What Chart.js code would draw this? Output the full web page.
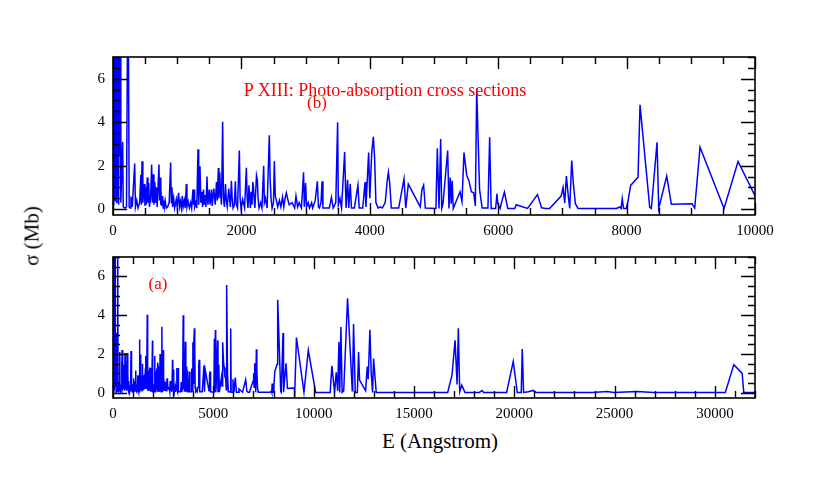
<!DOCTYPE html>
<html>
<head>
<meta charset="utf-8">
<script src="https://cdn.jsdelivr.net/npm/chart.js@4/dist/chart.umd.min.js"></script>
<style>
  body { margin: 0; background: #fff; }
  #wrap { position: relative; width: 830px; height: 485px; overflow: hidden; font-family: "Liberation Serif", serif; }
  canvas { position: absolute; left: 0; }
  .lbl { position: absolute; white-space: nowrap; transform: translate(-50%, -50%); line-height: 1; }
  .red { color: #ff0000; font-size: 18px; }
</style>
</head>
<body>
<div id="wrap">
  <canvas id="panelB" width="830" height="240" style="top:0"></canvas>
  <canvas id="panelA" width="830" height="180" style="top:240px"></canvas>
  <div class="lbl red" id="title" style="left:385px; top:90px">P XIII: Photo-absorption cross sections</div>
  <div class="lbl red" id="tagB" style="left:317px; top:102px; font-size:17px">(b)</div>
  <div class="lbl red" id="tagA" style="left:158px; top:283px; font-size:17px">(a)</div>
  <div class="lbl" id="ylab" style="left:32px; top:236px; font-size:21px; transform: translate(-50%, -50%) rotate(-90deg)">σ (Mb)</div>
  <div class="lbl" id="xlab" style="left:440px; top:441px; font-size:21px">E (Angstrom)</div>
</div>
<script>
// Data: photon wavelength (Angstrom) and cross section (Mb)
var energy = [
  2, 8, 15, 22, 30, 38, 46, 55, 62, 72,
  80, 88, 96, 105, 112, 122, 150, 160, 185, 210,
  228, 240, 252, 265, 280, 300, 338, 350, 370, 390,
  415, 434, 442, 452, 465, 488, 498, 510, 520, 534,
  545, 556, 568, 585, 602, 612, 628, 638, 652, 662,
  675, 688, 716, 725, 735, 742, 747, 757, 772, 782,
  791, 800, 812, 830, 850, 875, 898, 908, 918, 928,
  945, 960, 986, 1000, 1022, 1035, 1050, 1065, 1080, 1092,
  1110, 1125, 1142, 1152, 1170, 1190, 1210, 1225, 1245, 1255,
  1262, 1272, 1290, 1305, 1324, 1335, 1355, 1368, 1385, 1395,
  1410, 1420, 1435, 1448, 1464, 1478, 1500, 1512, 1535, 1545,
  1570, 1592, 1612, 1625, 1641, 1650, 1662, 1675, 1690, 1708,
  1720, 1735, 1752, 1765, 1780, 1803, 1815, 1828, 1844, 1856,
  1870, 1890, 1906, 1918, 1940, 1968, 1980, 1995, 2020, 2035,
  2050, 2077, 2090, 2102, 2118, 2130, 2140, 2152, 2165, 2178,
  2188, 2198, 2210, 2235, 2248, 2260, 2275, 2300, 2320, 2347,
  2358, 2375, 2400, 2435, 2448, 2462, 2478, 2500, 2513, 2528,
  2545, 2565, 2593, 2615, 2640, 2660, 2680, 2700, 2718, 2745,
  2790, 2830, 2850, 2875, 2900, 2935, 2968, 2980, 3000, 3015,
  3040, 3060, 3094, 3110, 3150, 3183, 3200, 3215, 3240, 3256,
  3270, 3320, 3370, 3402, 3430, 3470, 3499, 3510, 3535, 3560,
  3608, 3630, 3654, 3672, 3695, 3715, 3760, 3815, 3835, 3890,
  3926, 3940, 3982, 4000, 4030, 4055, 4075, 4095, 4130, 4165,
  4195, 4240, 4273, 4290, 4310, 4335, 4450, 4533, 4560, 4600,
  4786, 4812, 4838, 4865, 5030, 5052, 5078, 5104, 5120, 5140,
  5213, 5233, 5252, 5268, 5283, 5300, 5405, 5436, 5467, 5510,
  5545, 5582, 5618, 5644, 5665, 5710, 5750, 5840, 5867, 5890,
  5960, 5981, 5995, 6030, 6060, 6097, 6150, 6258, 6280, 6457,
  6612, 6675, 6740, 6800, 6980, 7010, 7036, 7062, 7088, 7114,
  7145, 7170, 7202, 7244, 7540, 7840, 7897, 7915, 7932, 7953,
  7995, 8021, 8063, 8178, 8209, 8360, 8386, 8474, 8500, 8625,
  8697, 9019, 9061, 9144, 9518, 9736, 10100, 10825, 10910, 11045,
  11128, 11200, 11262, 11300, 11360, 11420, 11500, 11692, 11925, 11950,
  11990, 12075, 12180, 12241, 12290, 12590, 12673, 12720, 12805, 12870,
  12938, 12988, 13120, 16682, 16900, 17050, 17150, 17214, 17280, 17380,
  17545, 18260, 18400, 18475, 19620, 19950, 20150, 20350, 20400, 20465,
  20700, 20945, 21090, 23880, 24625, 24960, 26120, 26950, 30520, 30945,
  31360, 31440, 32000
];

var sigma = [
  7.5, 0.2, 9, 0.4, 8.5, 1.0, 9, 0.3, 8, 0.6,
  9.5, 0.2, 8, 2.5, 7.8, 0.3, 3.1, 0.1, 0.05, 0.1,
  9, 8, 0.1, 0.05, 0.58, 0.1, 2.1, 0.1, 0.4, 0.05,
  0.3, 1.58, 0.2, 2.2, 0.3, 1.15, 0.15, 1.0, 0.2, 1.45,
  0.3, 1.2, 0.1, 0.5, 2.05, 0.3, 1.6, 0.2, 1.25, 0.3,
  1.0, 0.1, 2.05, 0.4, 1.45, 0.2, 1.0, 0.15, 0.6, 0.05,
  0.4, 0.1, 0.4, 0.05, 0.1, 0.3, 2.15, 0.3, 1.0, 0.1,
  0.5, 0.05, 0.45, 0.1, 0.75, 0.1, 0.35, 0.05, 0.6, 0.1,
  0.4, 0.05, 1.15, 0.1, 0.35, 0.05, 0.3, 0.05, 0.9, 0.2,
  0.9, 0.1, 0.3, 0.05, 2.75, 0.2, 1.97, 0.3, 0.8, 0.1,
  0.9, 0.2, 0.65, 0.1, 1.5, 0.2, 0.9, 0.2, 0.9, 0.15,
  0.95, 0.2, 1.25, 0.4, 1.89, 0.5, 1.7, 0.75, 0.2, 4.02,
  0.6, 0.1, 1.15, 0.4, 0.1, 0.95, 0.5, 0.1, 1.3, 0.5,
  0.05, 0.2, 1.28, 0.25, 0.05, 2.7, 0.5, 0.05, 0.45, 0.25,
  0.05, 1.9, 0.5, 0.05, 1.1, 0.5, 0.05, 0.8, 0.2, 1.25,
  1.0, 0.5, 0.05, 1.55, 1.35, 0.5, 0.05, 0.3, 0.05, 2.0,
  0.3, 0.5, 0.05, 3.4, 1.35, 0.5, 0.05, 0.3, 2.2, 0.6,
  0.4, 0.1, 0.4, 0.1, 0.55, 0.1, 0.5, 0.75, 0.5, 0.2,
  0.3, 0.05, 0.6, 0.1, 0.3, 0.05, 1.7, 0.1, 1.2, 0.1,
  0.3, 0.05, 0.3, 0.05, 0.4, 1.28, 0.1, 0.05, 0.3, 1.28,
  0.05, 0.05, 0.05, 0.55, 0.05, 0.3, 4.0, 0.2, 0.5, 0.05,
  2.63, 0.05, 1.35, 0.05, 1.15, 0.05, 0.05, 1.1, 0.05, 0.05,
  1.25, 0.1, 2.6, 0.5, 2.6, 3.33, 2.35, 0.3, 0.05, 0.1,
  0.05, 0.3, 1.35, 1.7, 1.2, 0.05, 0.05, 1.4, 0.05, 1.15,
  0.1, 0.9, 1.1, 0.05, 0.03, 2.8, 0.03, 3.23, 0.03, 0.25,
  2.7, 0.03, 1.45, 0.25, 1.3, 0.03, 0.8, 0.35, 2.6, 1.55,
  1.3, 0.8, 0.75, 0.15, 5.55, 0.9, 0.05, 0.05, 3.31, 0.03,
  0.03, 0.7, 0.25, 0.03, 0.4, 0.78, 0.03, 0.03, 0.2, 0.03,
  0.67, 0.06, 0.03, 0.03, 0.6, 1.0, 0.28, 1.52, 0.7, 0.03,
  2.24, 1.2, 0.25, 0.03, 0.03, 0.03, 0.1, 0.03, 0.48, 0.03,
  0.03, 0.35, 1.09, 1.47, 4.8, 0.08, 0.03, 3.08, 0.03, 1.52,
  0.22, 0.25, 0.05, 2.85, 0.03, 2.19, 0.02, 0.02, 1.39, 0.02,
  1.05, 0.1, 2.62, 0.02, 3.39, 0.02, 0.1, 4.87, 0.1, 1.0,
  3.54, 0.02, 0.02, 2.1, 0.65, 0.1, 1.35, 0.7, 3.25, 1.05,
  0.02, 1.77, 0.02, 0.02, 0.92, 2.7, 0.43, 3.33, 0.05, 0.39,
  0.02, 0.02, 0.12, 0.02, 0.02, 1.62, 0.02, 0.02, 2.25, 0.02,
  0.05, 0.12, 0.02, 0.02, 0.06, 0.02, 0.06, 0.02, 0.02, 1.45,
  1.0, 0.02, 0.02
];

// tick labels
var yTicks = [0, 2, 4, 6];
var xTicksB = [0, 2000, 4000, 6000, 8000, 10000];
var xTicksA = [0, 5000, 10000, 15000, 20000, 25000, 30000];

var points = energy.map(function(e, i) { return {x: e, y: sigma[i]}; });

// frame box with inward ticks on all four sides
var frameTicks = {
  id: 'frameTicks',
  afterDatasetsDraw: function(chart, args, opts) {
    var ctx = chart.ctx, a = chart.chartArea, x = chart.scales.x, y = chart.scales.y;
    var v, p, len;
    ctx.save();
    ctx.strokeStyle = '#000';
    ctx.lineWidth = 1.4;
    ctx.beginPath();
    for (v = 0; v <= x.max + 1e-6; v += opts.xMinor) {
      p = Math.round(x.getPixelForValue(v)) + 0.5;
      len = (v % opts.xMajor === 0) ? 12 : 7;
      ctx.moveTo(p, a.bottom); ctx.lineTo(p, a.bottom - len);
      ctx.moveTo(p, a.top); ctx.lineTo(p, a.top + len);
    }
    for (v = 0; v <= y.max + 1e-6; v += 0.5) {
      p = Math.round(y.getPixelForValue(v)) + 0.5;
      len = (Math.abs(v / 2 - Math.round(v / 2)) < 1e-6) ? 14 : 7;
      ctx.moveTo(a.left, p); ctx.lineTo(a.left + len, p);
      ctx.moveTo(a.right, p); ctx.lineTo(a.right - len, p);
    }
    ctx.stroke();
    ctx.lineWidth = 1.6;
    ctx.strokeRect(a.left, a.top, a.right - a.left, a.bottom - a.top);
    ctx.restore();
  }
};

var tickFont = {family: 'Liberation Serif', size: 15};
var plainLabel = function(v) { return String(v); };

function makePanel(id, xMax, xTicks, xMinor, xMajor, padTop, xAxisH) {
  return new Chart(document.getElementById(id), {
    type: 'line',
    data: {
      datasets: [{
        data: points,
        borderColor: '#0000ff',
        borderWidth: 1.5,
        pointRadius: 0,
        tension: 0,
        fill: false
      }]
    },
    options: {
      responsive: false,
      animation: false,
      layout: {padding: {left: 0, right: 75, top: padTop, bottom: 0}},
      plugins: {
        legend: {display: false},
        tooltip: {enabled: false},
        frameTicks: {xMinor: xMinor, xMajor: xMajor}
      },
      scales: {
        x: {
          type: 'linear',
          min: 0,
          max: xMax,
          grid: {display: false, drawTicks: false},
          border: {display: false},
          ticks: {font: tickFont, color: '#000', padding: 7, maxRotation: 0, callback: plainLabel},
          afterBuildTicks: function(s) { s.ticks = xTicks.map(function(v) { return {value: v}; }); },
          afterFit: function(s) { s.height = xAxisH; }
        },
        y: {
          type: 'linear',
          min: -0.27,
          max: 7,
          grid: {display: false, drawTicks: false},
          border: {display: false},
          ticks: {font: tickFont, color: '#000', padding: 8, callback: plainLabel},
          afterBuildTicks: function(s) { s.ticks = yTicks.map(function(v) { return {value: v}; }); },
          afterFit: function(s) { s.width = 113; }
        }
      }
    },
    plugins: [frameTicks]
  });
}

makePanel('panelB', 10000, xTicksB, 500, 2000, 57, 25);
makePanel('panelA', 32000, xTicksA, 1000, 5000, 1, 22);
</script>
</body>
</html>
